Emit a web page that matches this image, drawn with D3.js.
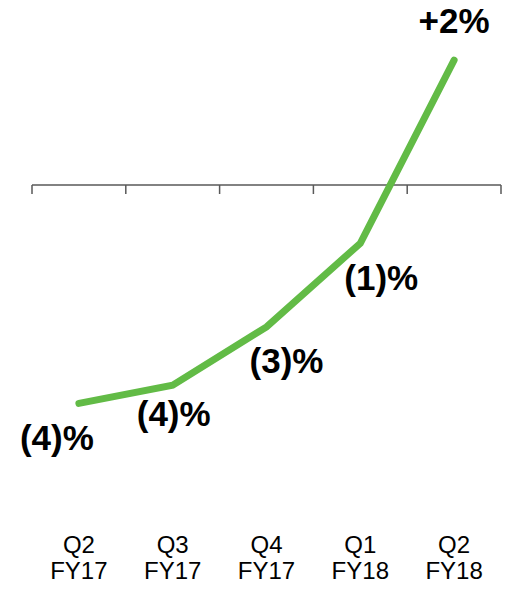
<!DOCTYPE html>
<html>
<head>
<meta charset="utf-8">
<script src="https://cdn.jsdelivr.net/npm/d3@7"></script>
<style>
    body { margin: 0; background: #fff; }
    svg { display: block; font-family: Arial, "Liberation Sans", sans-serif; }
</style>
</head>
<body>
<div class="container"></div>
<script>
// chart data
const quarters = ['Q2', 'Q3', 'Q4', 'Q1', 'Q2'];
const fiscalYears = ['FY17', 'FY17', 'FY17', 'FY18', 'FY18'];
const growth = [-4.2, -3.85, -2.73, -1.12, 2.4];
const growthLabels = ['(4)%', '(4)%', '(3)%', '(1)%', '+2%'];

// label nudges from the point (style, not data)
const labelDx = [-22, 1, 20, 21, 0];
const labelDy = [47, 41, 46, 47, -27];

const width = 506;
const height = 591;

const svg = d3.select('.container').append('svg').attr('width', width).attr('height', height);

const keys = quarters.map((q, i) => i);

const x = d3.scaleBand().domain(keys).range([32, 501]).padding(0);
const y = d3.scaleLinear().domain([-5, 3]).range([445, 29]);

const cx = i => x(i) + x.bandwidth() / 2;

// axis at zero with ticks at category boundaries
const axis = svg.append('g').attr('stroke', '#595959').attr('stroke-width', 1.5);
axis.append('line')
    .attr('x1', x.range()[0]).attr('x2', x.range()[1])
    .attr('y1', y(0)).attr('y2', y(0));

const edges = keys.map(i => x(i)).concat([x.range()[1]]);
axis.selectAll('.tick').data(edges).enter().append('line')
    .attr('class', 'tick')
    .attr('x1', d => d).attr('x2', d => d)
    .attr('y1', y(0)).attr('y2', y(0) + 9);

// green line
const line = d3.line().x(i => cx(i)).y(i => y(growth[i]));

svg.append('path')
    .datum(keys)
    .attr('d', line)
    .attr('fill', 'none')
    .attr('stroke', '#62bb46')
    .attr('stroke-width', 7)
    .attr('stroke-linejoin', 'miter')
    .attr('stroke-linecap', 'round');

// value labels
svg.selectAll('.val').data(keys).enter().append('text')
    .attr('class', 'val')
    .attr('x', i => cx(i) + labelDx[i])
    .attr('y', i => y(growth[i]) + labelDy[i])
    .attr('text-anchor', 'middle')
    .attr('font-weight', 'bold')
    .attr('font-size', 35)
    .attr('fill', '#000')
    .text(i => growthLabels[i]);

// category labels
const cats = svg.selectAll('.cat').data(keys).enter().append('text')
    .attr('class', 'cat')
    .attr('text-anchor', 'middle')
    .attr('font-size', 24)
    .attr('fill', '#000');

cats.append('tspan').attr('x', i => cx(i)).attr('y', 553).text(i => quarters[i]);
cats.append('tspan').attr('x', i => cx(i)).attr('y', 579).text(i => fiscalYears[i]);
</script>
</body>
</html>
